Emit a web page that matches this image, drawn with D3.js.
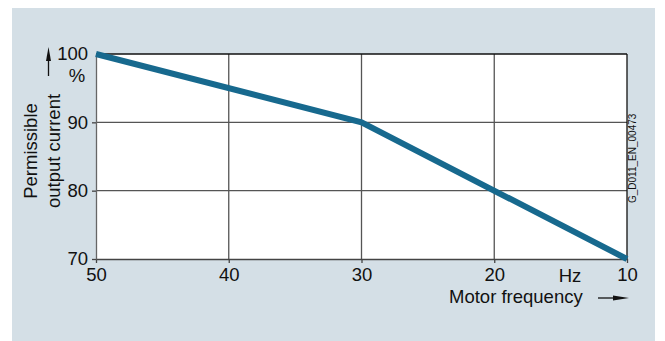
<!DOCTYPE html>
<html>
<head>
<meta charset="utf-8">
<script src="https://cdn.jsdelivr.net/npm/d3@7"></script>
<style>
  body { margin: 0; background: #fff; }
  svg text { font-family: "Liberation Sans", Arial, sans-serif; fill: #111; }
</style>
</head>
<body>
<script>
// chart data
var freqTicks = [50, 40, 30, 20, 10];
var currentTicks = [70, 80, 90, 100];
var curveFreq = [50, 30, 10];
var curveCurrent = [100, 90, 70];

var width = 665, height = 341;
var fs = 18.5;

var svg = d3.select("body").append("svg")
  .attr("width", width)
  .attr("height", height);

// light panel behind everything
svg.append("rect")
  .attr("x", 12).attr("y", 8)
  .attr("width", 643).attr("height", 333)
  .attr("fill", "#d4dfe6");

var x = d3.scaleLinear().domain([50, 10]).range([96, 627]);
var y = d3.scaleLinear().domain([70, 100]).range([259, 54]);

// white plot area
svg.append("rect")
  .attr("x", x(50)).attr("y", y(100))
  .attr("width", x(10) - x(50)).attr("height", y(70) - y(100))
  .attr("fill", "#fff");

// grid
var grid = svg.append("g");
grid.selectAll("line.v")
  .data(freqTicks.filter(function (d) { return d != 50 && d != 10; }))
  .enter().append("line")
  .attr("x1", function (d) { return x(d); })
  .attr("x2", function (d) { return x(d); })
  .attr("y1", y(100)).attr("y2", y(70))
  .attr("stroke", "#555").attr("stroke-width", 1.3);

grid.selectAll("line.h")
  .data(currentTicks.filter(function (d) { return d != 70 && d != 100; }))
  .enter().append("line")
  .attr("y1", function (d) { return y(d); })
  .attr("y2", function (d) { return y(d); })
  .attr("x1", x(50)).attr("x2", x(10))
  .attr("stroke", "#555").attr("stroke-width", 1.3);

// frame: top and right black, left and bottom grey
svg.append("line").attr("x1", x(50)).attr("x2", x(10)).attr("y1", y(100)).attr("y2", y(100))
  .attr("stroke", "#111").attr("stroke-width", 1.3);
svg.append("line").attr("x1", x(10)).attr("x2", x(10)).attr("y1", y(100)).attr("y2", y(70))
  .attr("stroke", "#111").attr("stroke-width", 1.3);

// axes
var xAxis = d3.axisBottom(x).tickValues(freqTicks).tickSize(4).tickSizeOuter(0).tickPadding(5)
  .tickFormat(d3.format("d"));
var gx = svg.append("g").attr("transform", "translate(0," + y(70) + ")").call(xAxis);
gx.select(".domain").attr("stroke", "#444").attr("stroke-width", 1.3);
gx.selectAll(".tick line").attr("stroke", "#444").attr("stroke-width", 1.3);
gx.selectAll(".tick text").attr("font-size", fs).attr("fill", "#111");

var yAxis = d3.axisLeft(y).tickValues(currentTicks).tickSize(4).tickSizeOuter(0).tickPadding(4)
  .tickFormat(d3.format("d"));
var gy = svg.append("g").attr("transform", "translate(" + x(50) + ",0)").call(yAxis);
gy.select(".domain").attr("stroke", "#666").attr("stroke-width", 1.3);
gy.selectAll(".tick line").attr("stroke", "#444").attr("stroke-width", 1.3)
  .attr("display", function (d) { return d == 100 ? "none" : null; });
gy.selectAll(".tick text").attr("font-size", fs).attr("fill", "#111");

// curve
var line = d3.line()
  .x(function (d) { return x(d[0]); })
  .y(function (d) { return y(d[1]); });
svg.append("path")
  .datum(d3.zip(curveFreq, curveCurrent))
  .attr("d", line)
  .attr("fill", "none")
  .attr("stroke", "#17698e")
  .attr("stroke-width", 6);

// unit labels
svg.append("text").attr("x", 77).attr("y", 82).attr("text-anchor", "middle")
  .attr("font-size", fs).text("%");
svg.append("text").attr("x", 570).attr("y", 282).attr("text-anchor", "middle")
  .attr("font-size", fs).text("Hz");

// axis titles
var yt = svg.append("text")
  .attr("transform", "translate(37,151) rotate(-90)")
  .attr("text-anchor", "middle").attr("font-size", fs);
yt.append("tspan").attr("x", 0).attr("dy", 0).text("Permissible");
yt.append("tspan").attr("x", 0).attr("dy", 23).text("output current");

svg.append("text").attr("x", 449).attr("y", 303)
  .attr("font-size", fs).text("Motor frequency");

// arrows
svg.append("line").attr("x1", 48.5).attr("x2", 48.5).attr("y1", 76).attr("y2", 58)
  .attr("stroke", "#111").attr("stroke-width", 1.3);
svg.append("path").attr("d", "M48.5,47 L46,61 L51,61 Z").attr("fill", "#111");
svg.append("line").attr("x1", 598).attr("x2", 616).attr("y1", 298).attr("y2", 298)
  .attr("stroke", "#111").attr("stroke-width", 1.3);
svg.append("path").attr("d", "M629,298 L613,295.5 L613,300.5 Z").attr("fill", "#111");

// drawing id
svg.append("text")
  .attr("transform", "translate(636,203) rotate(-90)")
  .attr("font-size", 10).text("G_D011_EN_00473");
</script>
</body>
</html>
